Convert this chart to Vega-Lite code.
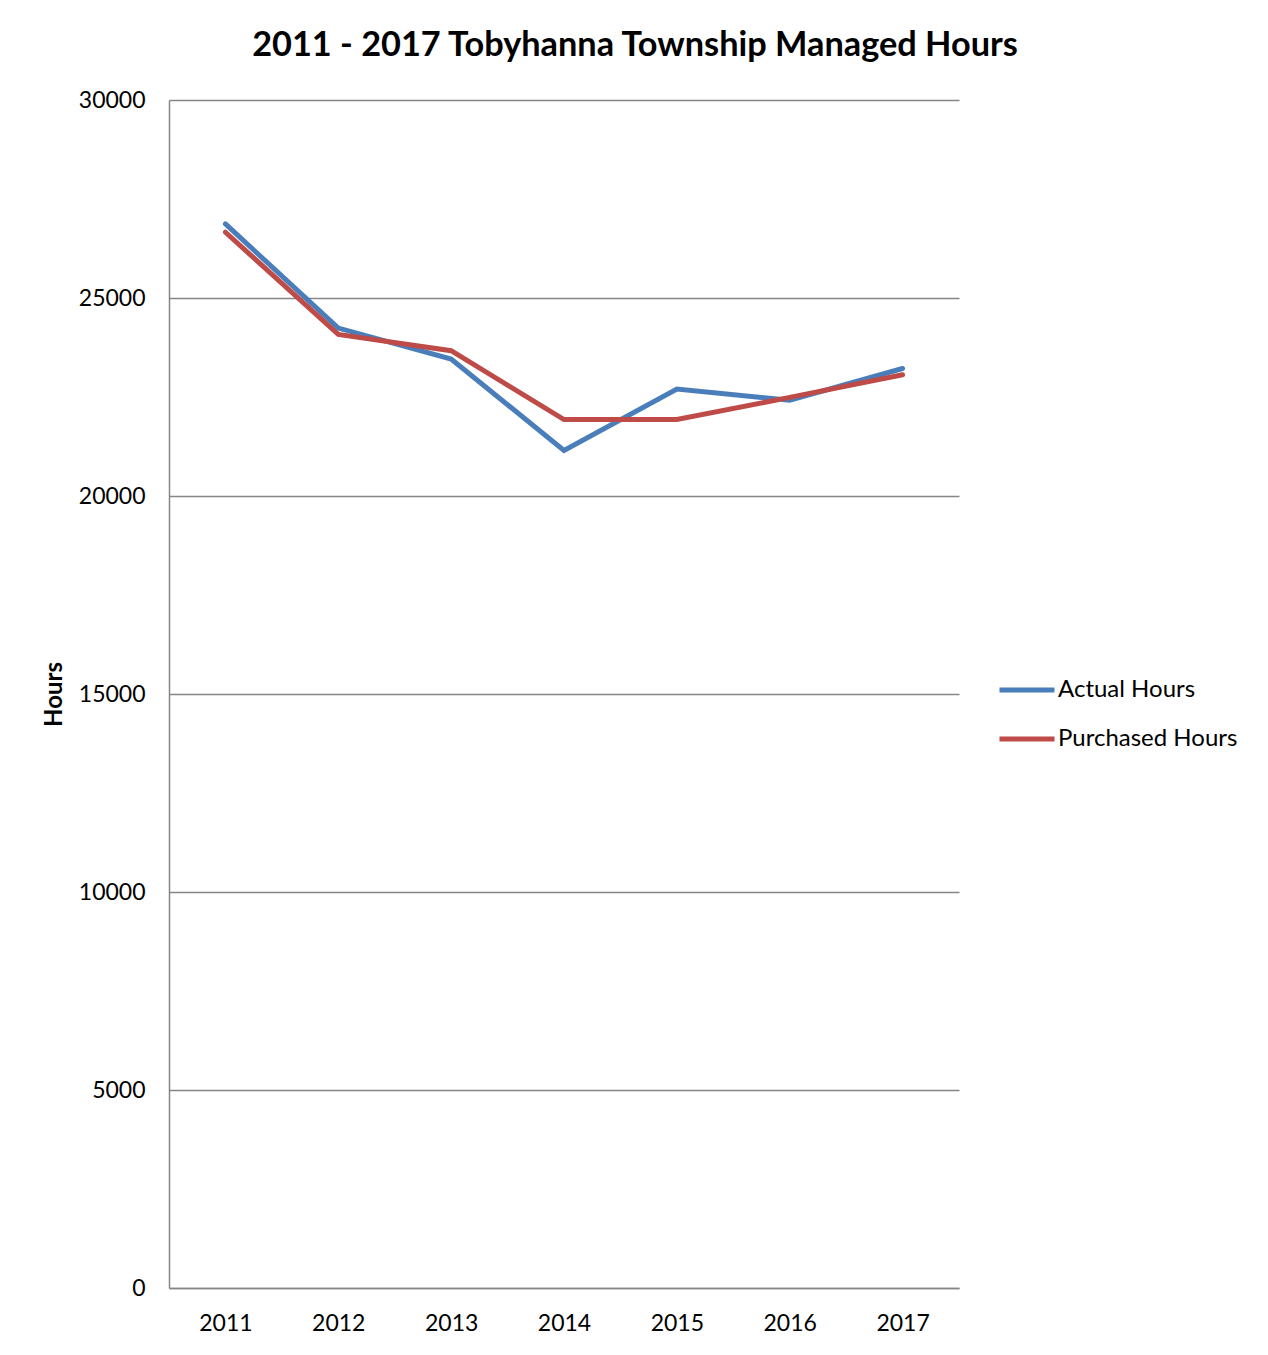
{
  "$schema": "https://vega.github.io/schema/vega-lite/v6.json",
  "width": 790,
  "height": 1188,
  "autosize": {"type": "none"},
  "padding": {"left": 169, "top": 100, "right": 309, "bottom": 67},
  "background": "white",
  "title": {
    "text": "2011 - 2017 Tobyhanna Township Managed Hours",
    "font": "Lato",
    "fontSize": 34.3,
    "fontWeight": "bold",
    "color": "black",
    "anchor": "middle",
    "frame": "group",
    "dx": 71,
    "offset": 26
  },
  "data": {
    "values": [
      {"year": "2011", "series": "Actual Hours", "hours": 26870},
      {"year": "2012", "series": "Actual Hours", "hours": 24240},
      {"year": "2013", "series": "Actual Hours", "hours": 23460},
      {"year": "2014", "series": "Actual Hours", "hours": 21150},
      {"year": "2015", "series": "Actual Hours", "hours": 22700},
      {"year": "2016", "series": "Actual Hours", "hours": 22420},
      {"year": "2017", "series": "Actual Hours", "hours": 23220},
      {"year": "2011", "series": "Purchased Hours", "hours": 26660},
      {"year": "2012", "series": "Purchased Hours", "hours": 24080},
      {"year": "2013", "series": "Purchased Hours", "hours": 23670},
      {"year": "2014", "series": "Purchased Hours", "hours": 21930},
      {"year": "2015", "series": "Purchased Hours", "hours": 21930},
      {"year": "2016", "series": "Purchased Hours", "hours": 22490},
      {"year": "2017", "series": "Purchased Hours", "hours": 23060}
    ]
  },
  "mark": {"type": "line", "strokeWidth": 5, "strokeCap": "round", "strokeJoin": "miter"},
  "encoding": {
    "x": {
      "field": "year",
      "type": "ordinal",
      "scale": {"type": "point", "padding": 0.5},
      "axis": {
        "title": null,
        "labelAngle": 0,
        "labelFont": "Lato",
        "labelFontSize": 23,
        "labelColor": "black",
        "labelPadding": 24,
        "ticks": false,
        "domainColor": "#868686",
        "domainWidth": 1.5,
        "grid": false
      }
    },
    "y": {
      "field": "hours",
      "type": "quantitative",
      "scale": {"domain": [0, 30000], "nice": false},
      "axis": {
        "title": "Hours",
        "titleFont": "Lato",
        "titleFontSize": 24,
        "titleFontWeight": "bold",
        "titleColor": "black",
        "titlePadding": 12,
        "values": [0, 5000, 10000, 15000, 20000, 25000, 30000],
        "format": "d",
        "labelFont": "Lato",
        "labelFontSize": 23,
        "labelColor": "black",
        "labelPadding": 24,
        "ticks": false,
        "domainColor": "#868686",
        "domainWidth": 1.5,
        "grid": true,
        "gridColor": "#868686",
        "gridWidth": 1.5
      }
    },
    "color": {
      "field": "series",
      "type": "nominal",
      "scale": {"domain": ["Actual Hours", "Purchased Hours"], "range": ["#4A7EBB", "#BE4B48"]},
      "legend": {
        "title": null,
        "orient": "none",
        "legendX": 828,
        "legendY": 560,
        "symbolType": "stroke",
        "symbolSize": 3025,
        "symbolStrokeWidth": 5,
        "labelFont": "Lato",
        "labelFontSize": 24,
        "labelColor": "black",
        "labelOffset": 1,
        "labelLimit": 400,
        "rowPadding": 7
      }
    }
  },
  "config": {
    "view": {"stroke": null}
  }
}
